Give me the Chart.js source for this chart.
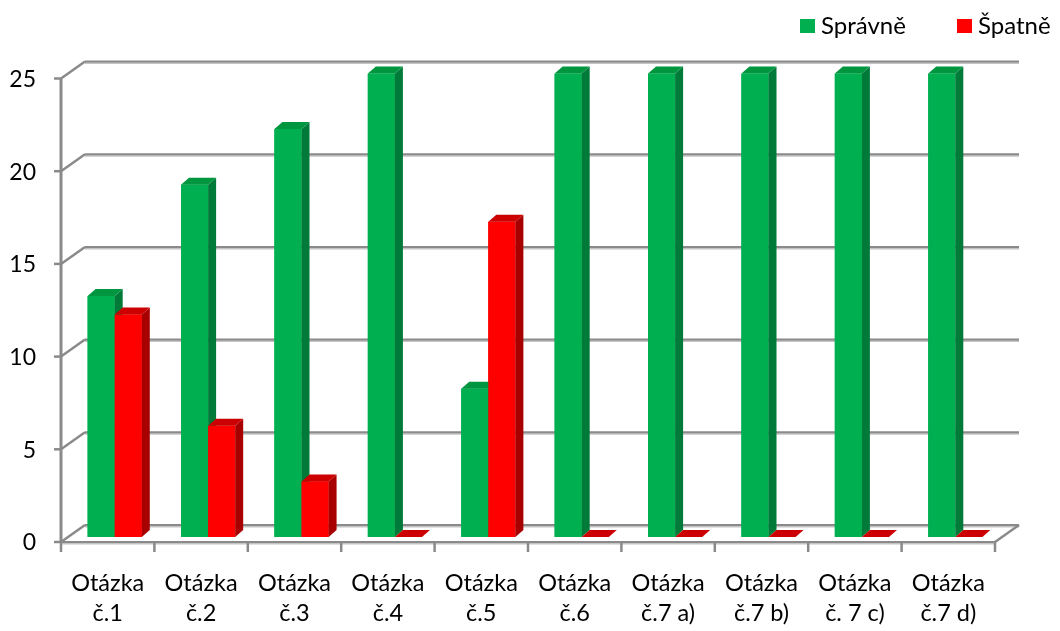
<!DOCTYPE html>
<html>
<head>
<meta charset="utf-8">
<script src="https://cdn.jsdelivr.net/npm/chart.js@4.4.1/dist/chart.umd.min.js"></script>
<style>
  html, body { margin: 0; background: #fff; }
</style>
</head>
<body>
<canvas id="chart" width="1060" height="631"></canvas>
<script>
const categories = [
  ["Otázka", "č.1"], ["Otázka", "č.2"], ["Otázka", "č.3"], ["Otázka", "č.4"],
  ["Otázka", "č.5"], ["Otázka", "č.6"], ["Otázka", "č.7 a)"], ["Otázka", "č.7 b)"],
  ["Otázka", "č. 7 c)"], ["Otázka", "č.7 d)"]
];
const spravne = [13, 19, 22, 25, 8, 25, 25, 25, 25, 25];
const spatne = [12, 6, 3, 0, 17, 0, 0, 0, 0, 0];
const yTicks = [0, 5, 10, 15, 20, 25];

const FONT = "Lato, 'Open Sans', sans-serif";

// fake 3d: offsets relative to the plane the bar fronts sit in
const DEPTH = {
  bar: [8, -7],
  front: [-7, 5],
  back: [17, -12]
};

const faces = [
  { front: "#00b050", side: "#007a38", top: "#00953f" },
  { front: "#ff0000", side: "#a80000", top: "#cc0000" }
];

function seg(ctx, x0, y0, x1, y1, color, w) {
  ctx.strokeStyle = color;
  ctx.lineWidth = w;
  ctx.beginPath();
  ctx.moveTo(x0, y0);
  ctx.lineTo(x1, y1);
  ctx.stroke();
}

function gridLine(ctx, x0, y0, x1, y1) {
  seg(ctx, x0, y0 + 1.5, x1, y1 + 1.5, "#c4c4c4", 2);
  seg(ctx, x0, y0, x1, y1, "#8a8a8a", 2);
}

const walls = {
  id: "walls",
  beforeDatasetsDraw(chart) {
    const { ctx, chartArea: a, scales: { x, y } } = chart;
    const fx0 = a.left + DEPTH.front[0], fx1 = a.right + DEPTH.front[0];
    const bx0 = a.left + DEPTH.back[0], bx1 = a.right + DEPTH.back[0];
    ctx.save();
    yTicks.forEach(v => {
      const py = y.getPixelForValue(v);
      gridLine(ctx, bx0, py + DEPTH.back[1], bx1, py + DEPTH.back[1]);
      seg(ctx, fx0, py + DEPTH.front[1], bx0, py + DEPTH.back[1], "#8a8a8a", 2.5);
      seg(ctx, fx0 - 7, py + DEPTH.front[1], fx0, py + DEPTH.front[1], "#8a8a8a", 2.5);
    });
    const y0 = y.getPixelForValue(0);
    const yf = y0 + DEPTH.front[1], yb = y0 + DEPTH.back[1];
    // floor edges
    gridLine(ctx, fx0, yf, fx1, yf);
    seg(ctx, fx1, yf, bx1, yb, "#8a8a8a", 2.5);
    // front value axis
    seg(ctx, fx0, y.getPixelForValue(25) + DEPTH.front[1], fx0, yf + 1, "#8a8a8a", 3);
    // category separators
    for (let k = 0; k <= categories.length; k++) {
      const px = x.getPixelForValue(k - 0.5) + DEPTH.front[0];
      seg(ctx, px, yf, px, yf + 10, "#8a8a8a", 2.5);
    }
    ctx.restore();
  },
  afterDatasetsDraw(chart) {
    const { ctx } = chart;
    const [dx, dy] = DEPTH.bar;
    const metas = [chart.getDatasetMeta(0), chart.getDatasetMeta(1)];
    ctx.save();
    for (let i = 0; i < categories.length; i++) {
      metas.forEach((meta, d) => {
        const bar = meta.data[i];
        const { x, y, width, base } = bar.getProps(["x", "y", "width", "base"], true);
        const l = x - width / 2, r = x + width / 2;
        const c = faces[d];
        ctx.fillStyle = c.front;
        ctx.fillRect(l, y, width, base - y);
        // side
        ctx.fillStyle = c.side;
        ctx.beginPath();
        ctx.moveTo(r, y);
        ctx.lineTo(r + dx, y + dy);
        ctx.lineTo(r + dx, base + dy);
        ctx.lineTo(r, base);
        ctx.closePath();
        ctx.fill();
        // top
        ctx.fillStyle = c.top;
        ctx.beginPath();
        ctx.moveTo(l, y);
        ctx.lineTo(l + dx, y + dy);
        ctx.lineTo(r + dx, y + dy);
        ctx.lineTo(r, y);
        ctx.closePath();
        ctx.fill();
      });
    }
    ctx.restore();
  }
};

// legend in the top right corner
const cornerLegend = {
  id: "cornerLegend",
  afterDraw(chart) {
    const { ctx } = chart;
    const items = [
      { text: chart.data.datasets[0].label, color: faces[0].front, x: 800 },
      { text: chart.data.datasets[1].label, color: faces[1].front, x: 957 }
    ];
    ctx.save();
    ctx.font = "24px " + FONT;
    ctx.textBaseline = "middle";
    items.forEach(it => {
      ctx.fillStyle = it.color;
      ctx.fillRect(it.x, 19, 15, 14);
      ctx.fillStyle = "#000";
      ctx.fillText(it.text, it.x + 21, 26);
    });
    ctx.restore();
  }
};

new Chart(document.getElementById("chart"), {
  type: "bar",
  data: {
    labels: categories,
    datasets: [
      { label: "Správně", data: spravne, backgroundColor: faces[0].front },
      { label: "Špatně", data: spatne, backgroundColor: faces[1].front }
    ]
  },
  options: {
    responsive: false,
    animation: false,
    layout: { padding: { top: 73.5, right: 58, bottom: 0, left: 0 } },
    categoryPercentage: 0.58,
    barPercentage: 1,
    plugins: { legend: { display: false }, tooltip: { enabled: false } },
    scales: {
      x: {
        grid: { display: false, drawTicks: false },
        border: { display: false },
        afterFit: s => { s.height = 94; },
        ticks: {
          color: "#000",
          font: { family: FONT, size: 23.5, lineHeight: 1.3 },
          padding: 31,
          labelOffset: DEPTH.front[0],
          maxRotation: 0,
          autoSkip: false
        }
      },
      y: {
        min: 0,
        max: 25,
        grid: { display: false, drawTicks: false },
        border: { display: false },
        afterFit: s => { s.width = 68; },
        ticks: {
          stepSize: 5,
          color: "#000",
          font: { family: FONT, size: 23 },
          padding: 32,
          labelOffset: 6
        }
      }
    }
  },
  plugins: [walls, cornerLegend]
});
</script>
</body>
</html>
